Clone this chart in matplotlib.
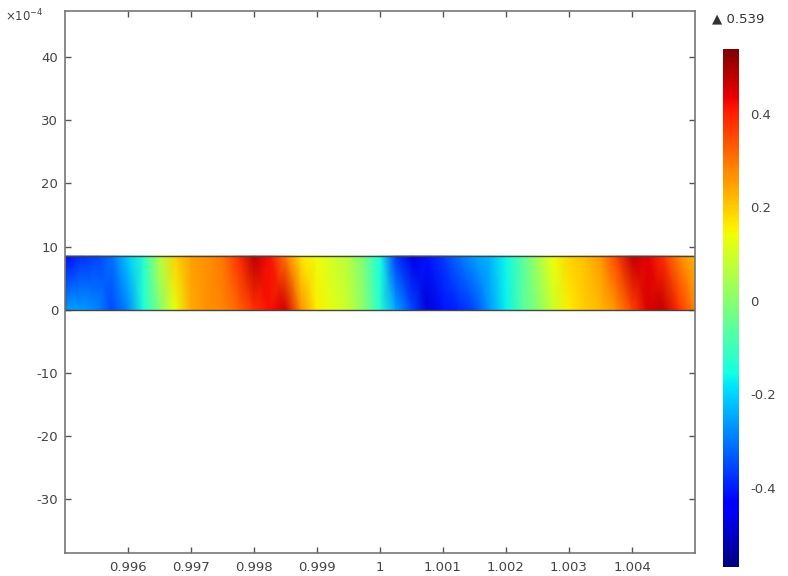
import numpy as np
import matplotlib
matplotlib.use("Agg")
import matplotlib.pyplot as plt
from matplotlib.colors import Normalize

# ---- data ----
x_nodes = np.linspace(0.995, 1.005, 41)          # sample columns along the strip
strip_y = [0.0, 0.00085]                           # strip bottom / top
vals_top = [-0.42, -0.38, -0.36, -0.31, -0.21, -0.12, 0.06, 0.19, 0.25, 0.27,
            0.30, 0.38, 0.48, 0.42, 0.30, 0.17, 0.14, 0.10, 0.06, -0.02,
            -0.15, -0.37, -0.47, -0.41, -0.37, -0.31, -0.26, -0.23, -0.16, -0.07,
            0.04, 0.14, 0.19, 0.21, 0.26, 0.36, 0.47, 0.44, 0.38, 0.28, 0.22]
vals_bottom = [-0.26, -0.26, -0.28, -0.35, -0.28, -0.14, -0.01, 0.13, 0.24, 0.27,
               0.28, 0.32, 0.38, 0.42, 0.46, 0.27, 0.16, 0.12, 0.08, 0.0,
               -0.13, -0.25, -0.35, -0.48, -0.41, -0.39, -0.35, -0.26, -0.17, -0.07,
               0.0, 0.09, 0.16, 0.20, 0.22, 0.27, 0.36, 0.45, 0.47, 0.38, 0.28]
vmin, vmax = -0.57, 0.539

x_ticks = [0.996, 0.997, 0.998, 0.999, 1.0, 1.001, 1.002, 1.003, 1.004]
x_ticklabels = ['0.996', '0.997', '0.998', '0.999', '1', '1.001', '1.002', '1.003', '1.004']
y_ticks = [-30e-4, -20e-4, -10e-4, 0, 10e-4, 20e-4, 30e-4, 40e-4]
y_ticklabels = ['-30', '-20', '-10', '0', '10', '20', '30', '40']
cb_ticks = [-0.4, -0.2, 0, 0.2, 0.4]
cb_ticklabels = ['-0.4', '-0.2', '0', '0.2', '0.4']

# ---- figure ----
W, H = 788, 576
fig = plt.figure(figsize=(W / 100, H / 100), dpi=100)
ax = fig.add_axes([65 / W, (H - 553) / H, 630 / W, 542 / H])

X, Y = np.meshgrid(x_nodes, strip_y)
C = np.array([vals_bottom, vals_top])
norm = Normalize(vmin=vmin, vmax=vmax)
cmap = plt.get_cmap('jet')
ax.pcolormesh(X, Y, C, shading='gouraud', cmap=cmap, norm=norm)
ax.plot([x_nodes[0], x_nodes[-1], x_nodes[-1], x_nodes[0], x_nodes[0]],
        [strip_y[0], strip_y[0], strip_y[1], strip_y[1], strip_y[0]],
        color='#444444', lw=1.0)

ax.set_xlim(0.995, 1.005)
ax.set_ylim(-0.00385, 0.00473)
ax.set_xticks(x_ticks)
ax.set_xticklabels(x_ticklabels)
ax.set_yticks(y_ticks)
ax.set_yticklabels(y_ticklabels)
ax.tick_params(direction='in', length=4, width=1, color='#555555',
               labelsize=9.5, labelcolor='#444444', top=True, right=True)
ax.tick_params(axis='x', pad=6)
ax.tick_params(axis='y', pad=5)
for s in ax.spines.values():
    s.set_color('#777777')
    s.set_linewidth(1.2)

fig.text(5 / W, 1 - 16 / H, r'$\times\mathdefault{10^{-4}}$', fontsize=8.5,
         color='#444444', ha='left', va='center')

# colorbar
cax = fig.add_axes([723 / W, (H - 567) / H, 16 / W, 518 / H])
sm = matplotlib.cm.ScalarMappable(norm=norm, cmap=cmap)
cb = fig.colorbar(sm, cax=cax)
cb.outline.set_visible(False)
cb.set_ticks(cb_ticks)
cb.set_ticklabels(cb_ticklabels)
cax.tick_params(length=0, pad=8, labelsize=9.5, labelcolor='#444444')

fig.text(712 / W, 1 - 19 / H, '\u25B2 %.3f' % vmax, fontsize=9.5, color='#333333',
         ha='left', va='center')

fig.savefig('out.png', dpi=100)
